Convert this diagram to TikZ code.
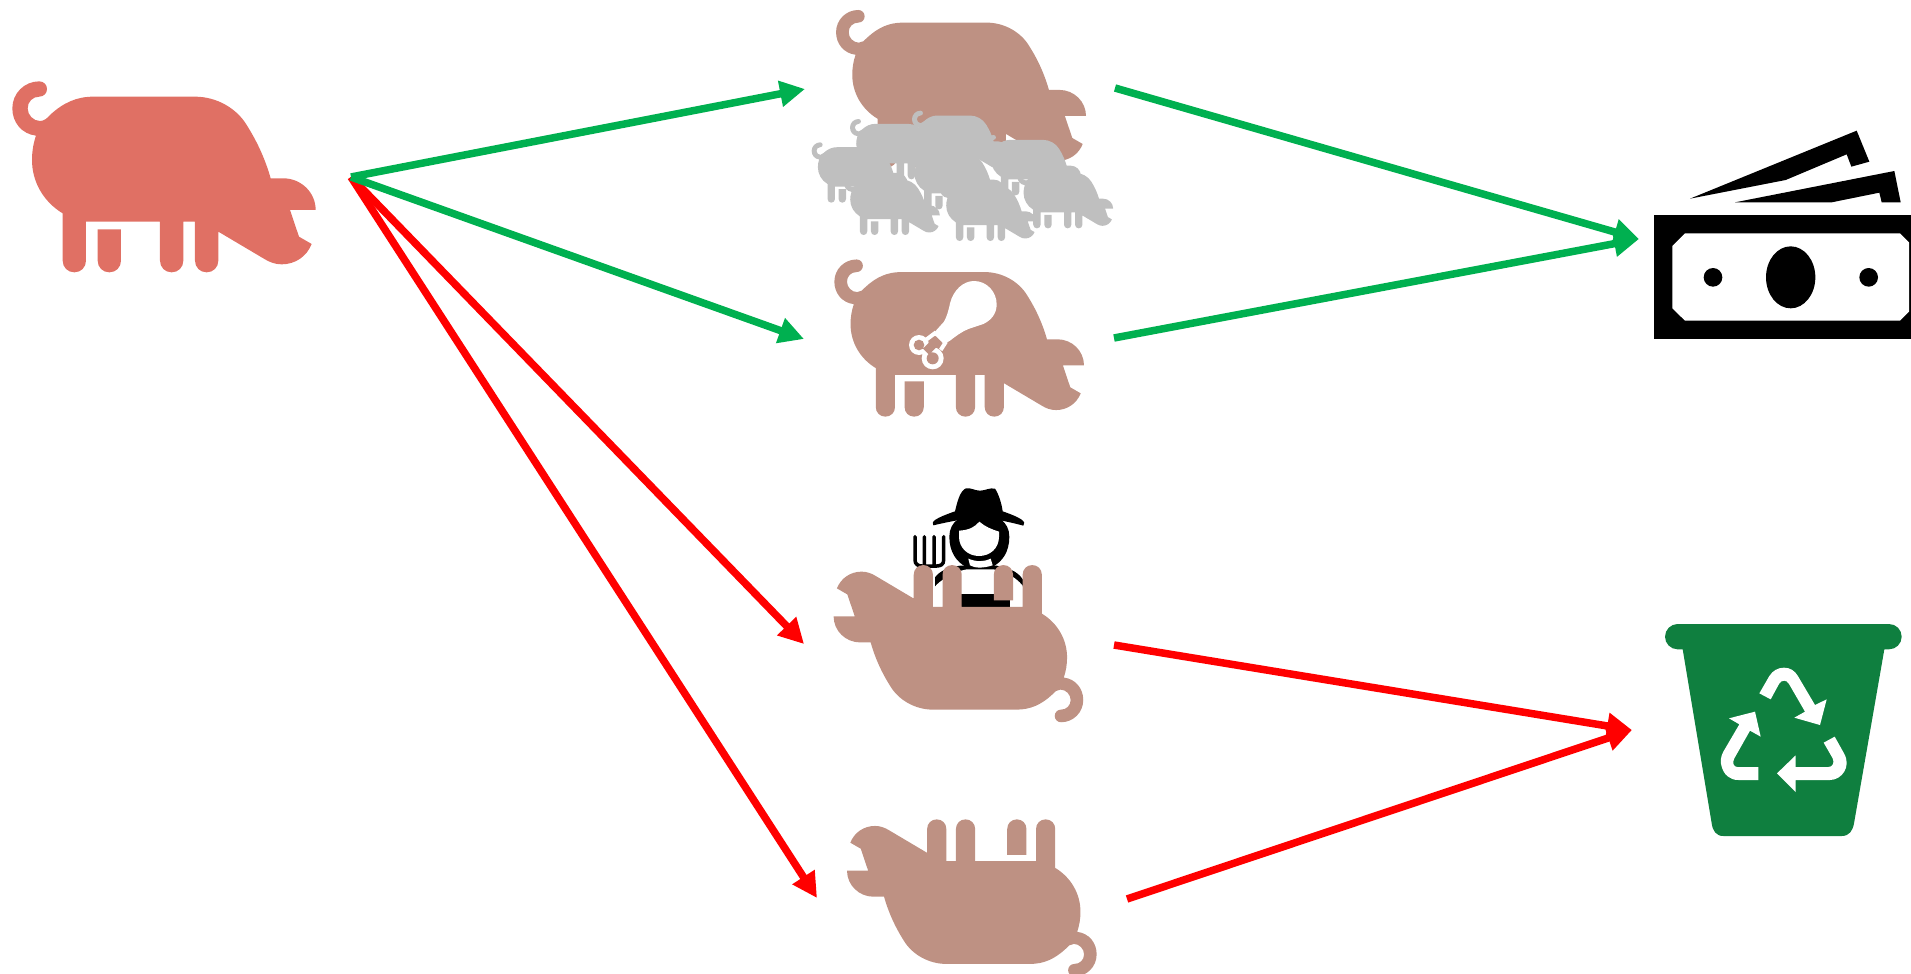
\documentclass[tikz,border=0pt]{standalone}
\usetikzlibrary{arrows.meta}
\definecolor{pigred}{HTML}{E07064}
\definecolor{pigbrown}{HTML}{BE9183}
\definecolor{piggray}{HTML}{BFBFBF}
\definecolor{arrgreen}{HTML}{00B050}
\definecolor{bingreen}{HTML}{0F7F3F}
\tikzset{
  flow/.style={line width=7.5pt,-{Triangle[length=25pt,width=25pt]}},
  goodflow/.style={flow,draw=arrgreen},
  badflow/.style={flow,draw=red},
  zoomed/.style={shift={(#1)},xscale=1/3,yscale=1/3}
}
\newcommand{\pigat}[5]{%
  \begin{scope}[shift={(#1,#2)},xscale=#3/3,yscale=#4/3]
  \fill[#5] (150,165) .. controls (190,128) and (230,110) .. (280,110) -- (585,110)
   .. controls (650,110) and (710,145) .. (740,195) .. controls (775,250) and (798,305) .. (812,355)
   -- (850,355) .. controls (903,355) and (947,397) .. (947,450) -- (870,450) -- (897,530) -- (935,552)
   .. controls (920,590) and (885,613) .. (845,613) .. controls (825,613) and (808,606) .. (795,598)
   -- (655,515) -- (655,602) .. controls (655,622) and (640,637) .. (620,637) .. controls (600,637) and (585,622) .. (585,602)
   -- (585,485) -- (550,485) -- (550,602) .. controls (550,622) and (535,637) .. (515,637) .. controls (495,637) and (480,622) .. (480,602)
   -- (480,485) -- (258,485) -- (258,602) .. controls (258,622) and (243,637) .. (223,637) .. controls (203,637) and (188,622) .. (188,602)
   -- (188,460) .. controls (130,425) and (96,365) .. (96,300) .. controls (96,275) and (100,250) .. (108,227)
   .. controls (65,222) and (37,187) .. (37,145) .. controls (37,100) and (73,64) .. (118,64)
   .. controls (131,64) and (141,74) .. (141,87) .. controls (141,100) and (131,110) .. (118,110)
   .. controls (98,110) and (83,125) .. (83,145) .. controls (83,165) and (100,183) .. (120,183)
   .. controls (132,183) and (142,175) .. cycle
   (293,508) -- (363,508) -- (363,602) .. controls (363,622) and (348,637) .. (328,637) .. controls (308,637) and (293,622) .. (293,602) -- cycle;
  \end{scope}}
\newcommand{\grayat}[2]{\pigat{786.1+#1/3}{#2/3-6.74}{.316}{.316}{piggray}}
\begin{document}
\begin{tikzpicture}[x=1pt,y=-1pt]
\clip (0,0) rectangle (1911,974);
% anchors
\coordinate (src) at (351,177);
\coordinate (wholeIn) at (805,89);
\coordinate (wholeOut) at (1115,88);
\coordinate (meatIn) at (804,339);
\coordinate (meatOut) at (1114,338);
\coordinate (farmIn) at (804,644);
\coordinate (farmOut) at (1114,645);
\coordinate (deadIn) at (817,898);
\coordinate (deadOut) at (1127,899);
\coordinate (money) at (1639,239);
\coordinate (bin) at (1632,730);
% pigs
\pigat{0}{60}{1}{1}{pigred}
\pigat{825.9}{-7.6}{.824}{.824}{pigbrown}
\grayat{65}{427}
\grayat{180}{357}
\grayat{366}{332}
\grayat{585}{405}
\grayat{355}{447}
\grayat{162}{524}
\grayat{450}{542}
\grayat{682}{504}
\pigat{824.2}{241.9}{.823}{.823}{pigbrown}
% drumstick
\begin{scope}[zoomed={820,270}]
\fill[white] (345,185) -- (372,155) .. controls (380,140) and (385,125) .. (390,100) .. controls (400,60) and (430,33) .. (462,33)
  .. controls (500,33) and (530,65) .. (530,103) .. controls (530,130) and (515,150) .. (490,162)
  -- (445,177) .. controls (425,185) and (405,200) .. (390,212) -- (372,222) -- (340,195) -- cycle;
\fill[white] (297,225) circle[radius=30] (338,265) circle[radius=33];
\draw[white,line width=4pt] (320,208) -- (348,187) (362,240) -- (378,215);
\fill[pigbrown] (297,225) circle[radius=16] (338,265) circle[radius=18]
  (309,236) -- (347,198) -- (365,216) -- (327,254) -- cycle;
\end{scope}
% farmer
\begin{scope}[zoomed={820,470}]
\draw[line width=3.5pt,line cap=round] (285,200) -- (285,270) .. controls (285,283) and (295,288) .. (305,288) -- (350,288) .. controls (362,288) and (371,283) .. (371,270) -- (371,200)
  (313,200) -- (313,288) (342,200) -- (342,288);
\fill (345,350) -- (345,322) .. controls (360,302) and (385,292) .. (420,287) -- (530,287) .. controls (575,295) and (600,310) .. (612,335) -- (606,350) -- cycle;
\fill[white] (345,350) .. controls (355,335) and (400,305) .. (440,298) -- (520,298) .. controls (560,305) and (590,325) .. (606,345) -- (606,412) -- (345,412) -- cycle;
\fill (420,372) -- (570,372) -- (570,412) -- (420,412) -- cycle;
% hair
\fill (388,200) .. controls (388,155) and (425,130) .. (478,130) .. controls (530,130) and (568,155) .. (568,200) .. controls (568,245) and (548,275) .. (515,292) -- (440,292) .. controls (408,275) and (388,245) .. (388,200) -- cycle;
\fill[white] (417,182) .. controls (450,180) and (465,170) .. (478,155) .. controls (495,170) and (515,178) .. (537,185) -- (537,200) .. controls (537,235) and (510,258) .. (477,258) .. controls (445,258) and (417,235) .. (417,200) -- cycle;
\fill[white] (445,266) .. controls (470,276) and (490,276) .. (512,266) -- (518,286) .. controls (490,295) and (465,295) .. (450,286) -- cycle;
% hat
\fill (340,166) .. controls (332,155) and (345,145) .. (405,124) .. controls (412,95) and (420,62) .. (438,55)
  .. controls (450,52) and (465,62) .. (480,62) .. controls (495,62) and (510,52) .. (525,56)
  .. controls (535,70) and (545,100) .. (548,124) .. controls (600,142) and (622,155) .. (610,167)
  .. controls (585,160) and (560,155) .. (537,150) .. controls (500,125) and (450,125) .. (417,150) .. controls (390,155) and (365,160) .. (340,166) -- cycle;
\end{scope}
\pigat{1093.4}{739.8}{-.823}{-.823}{pigbrown}
\pigat{1106.8}{994.1}{-.823}{-.823}{pigbrown}
% money
\begin{scope}[zoomed={1640,120}]
\fill (150,236) -- (650,32) -- (688,125) -- (634,140) -- (620,103) -- (437,180) -- cycle;
\fill (285,247) -- (763,153) -- (782,247) -- (725,247) -- (718,218) -- (575,247) -- cycle;
\fill (41,285) rectangle (813,657);
\fill[white] (135,340) -- (780,340) -- (807,367) -- (807,575) -- (780,602) -- (135,602) -- (97,565) -- (97,378) -- cycle;
\fill (452,472) circle[x radius=74,y radius=93];
\fill (219,472) circle[radius=28] (686,472) circle[radius=28];
\end{scope}
% bin
\begin{scope}[zoomed={1640,610}]
\fill[bingreen] (113,42) -- (747,42) .. controls (768,42) and (785,59) .. (785,80) .. controls (785,101) and (768,118) .. (747,118) -- (733,118)
  -- (642,640) .. controls (638,662) and (628,678) .. (605,678) -- (250,678) .. controls (228,678) and (218,662) .. (215,640) -- (128,118) -- (113,118)
  .. controls (92,118) and (75,101) .. (75,80) .. controls (75,59) and (92,42) .. (113,42) -- cycle;
\fill[white] (358,250) -- (388,198) .. controls (398,182) and (414,173) .. (432,173) .. controls (450,173) and (464,182) .. (473,197) -- (525,285) -- (560,268) -- (540,345) -- (463,323) -- (495,305) -- (447,222) .. controls (443,215) and (438,212) .. (432,212) .. controls (426,212) and (421,215) .. (417,222) -- (392,268) -- cycle;
\fill[white] (345,305) -- (267,325) -- (298,343) -- (250,425) .. controls (242,440) and (240,455) .. (245,470) .. controls (252,495) and (270,510) .. (295,510) -- (355,510) -- (355,471) -- (292,471) .. controls (282,471) and (275,460) .. (283,445) -- (330,362) -- (362,380) -- cycle;
\fill[white] (411,490) -- (467,436) -- (467,471) -- (565,471) .. controls (578,471) and (584,458) .. (578,445) -- (551,398) -- (584,380) -- (612,430) .. controls (635,470) and (605,510) .. (570,510) -- (467,510) -- (467,546) -- cycle;
\end{scope}
% connectors
\draw[badflow] (src) -- (farmIn);
\draw[badflow] (src) -- (deadIn);
\draw[goodflow] (src) -- (wholeIn);
\draw[goodflow] (src) -- (meatIn);
\draw[goodflow] (wholeOut) -- (money);
\draw[goodflow] (meatOut) -- (money);
\draw[badflow] (farmOut) -- (bin);
\draw[badflow] (deadOut) -- (bin);
\end{tikzpicture}
\end{document}
